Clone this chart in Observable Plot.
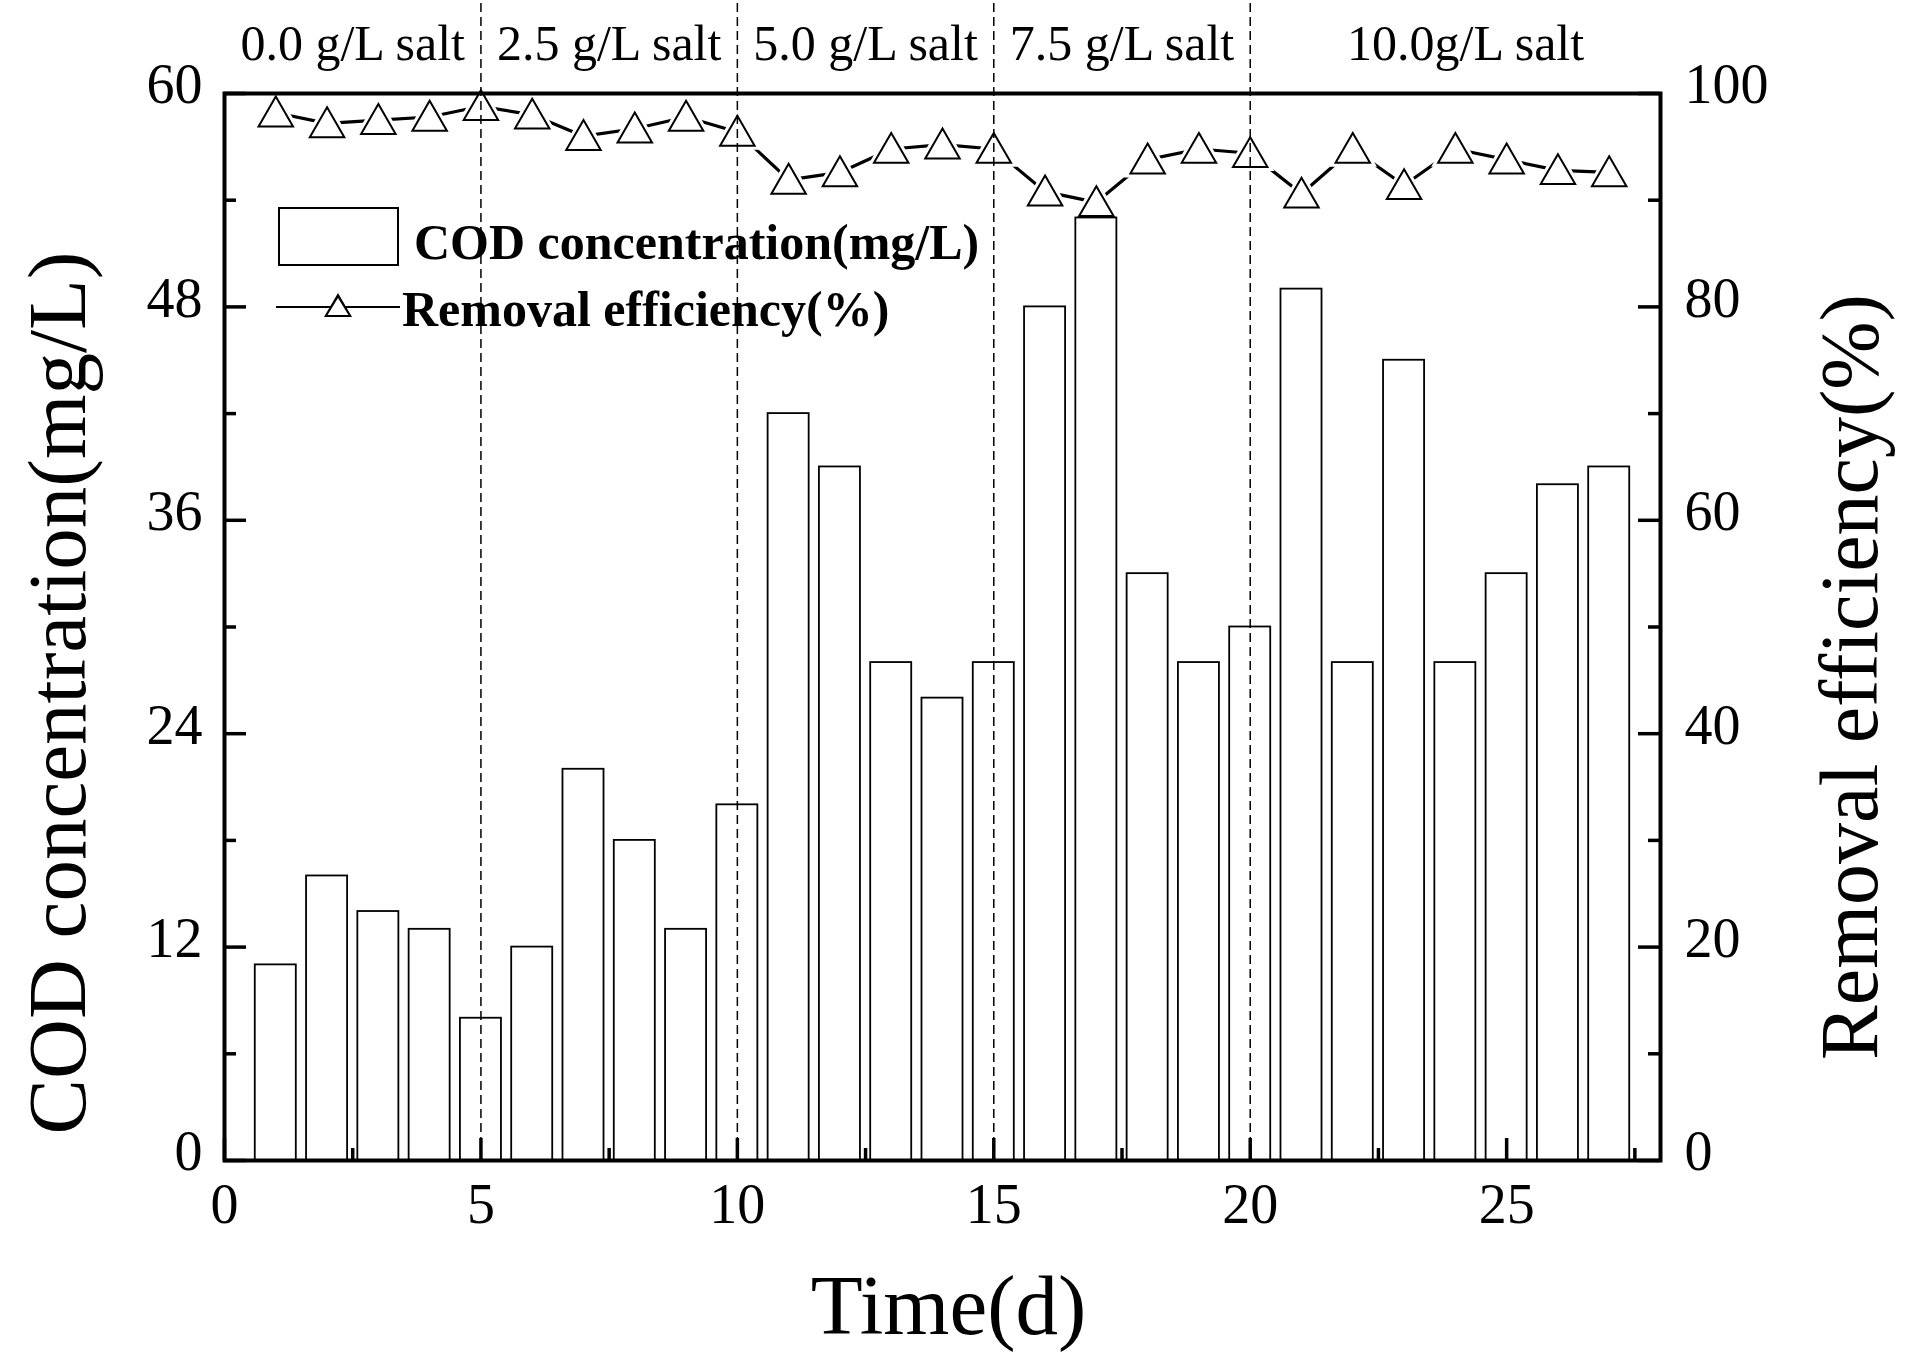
<!DOCTYPE html>
<html>
<head>
<meta charset="utf-8">
<script src="https://cdn.jsdelivr.net/npm/d3@7"></script>
<script src="https://cdn.jsdelivr.net/npm/@observablehq/plot@0.6"></script>
<style>
  html, body { margin: 0; padding: 0; background: white; overflow: hidden; }
  #wrap { position: relative; width: 1912px; height: 1359px; }
  .leg-text { position: absolute; font-family: "Liberation Serif", serif; font-weight: bold; font-size: 50px; line-height: 50px; color: black; white-space: nowrap; }
  .leg-rect { position: absolute; left: 278px; top: 207px; width: 121px; height: 59px; border: 2px solid black; box-sizing: border-box; background: white; }
  .leg-line { position: absolute; left: 276px; top: 306px; width: 124px; height: 0; border-top: 2.5px solid black; }
  .tri-o { position: absolute; left: 324px; top: 293px; width: 28px; height: 24px; background: black; clip-path: polygon(50% 0, 100% 100%, 0 100%); }
  .tri-i { position: absolute; left: 327.4px; top: 298px; width: 21.2px; height: 17.2px; background: white; clip-path: polygon(50% 0, 100% 100%, 0 100%); }
</style>
</head>
<body>
<div id="wrap"></div>
<script>
// ---- data ----
const days = [1,2,3,4,5,6,7,8,9,10,11,12,13,14,15,16,17,18,19,20,21,22,23,24,25,26,27];
const cod = [11,16,14,13,8,12,22,18,13,20,42,39,28,26,28,48,53,33,28,30,49,28,45,28,33,38,39];
const removal = [98.2,97.2,97.5,97.8,98.8,98.0,96.0,96.7,97.8,96.4,91.9,92.6,94.8,95.2,94.8,90.8,89.8,93.8,94.8,94.4,90.6,94.8,91.4,94.8,93.8,92.8,92.6];
const saltBoundaries = [5,10,15,20];
const saltLabels = ["0.0 g/L salt","2.5 g/L salt","5.0 g/L salt","7.5 g/L salt","10.0g/L salt"];
const saltX = [2.5,7.5,12.5,17.5,24.2];
const xTicks = [0,5,10,15,20,25];
const xMinor = [2.5,7.5,12.5,17.5,22.5,27.5];
const yTicks = [0,12,24,36,48,60];
const yMinor = [6,18,30,42,54];
const rightTickLabels = ["0","20","40","60","80","100"];
const xTitle = "Time(d)";
const yTitle = "COD concentration(mg/L)";
const y2Title = "Removal efficiency(%)";
const legendLabels = ["COD concentration(mg/L)","Removal efficiency(%)"];

const rows = days.map((d,i) => ({day: d, cod: cod[i], removal: removal[i]}));
const toLeft = v => v * 60 / 100; // right axis (0-100 %) onto left axis (0-60)

const W = 1912, H = 1359, ML = 224, MR = 252, MT = 93, MB = 199;
const FW = W - ML - MR, FH = H - MT - MB;
const font = "Liberation Serif";

const chart = Plot.plot({
  width: W, height: H,
  marginLeft: ML, marginRight: MR, marginTop: MT, marginBottom: MB,
  style: {background: "white", color: "black", fontFamily: font},
  x: {domain: [0, 28]},
  y: {domain: [0, 60]},
  marks: [
    Plot.line(rows, {x: "day", y: d => toLeft(d.removal), stroke: "black", strokeWidth: 3.2}),
    Plot.dot(rows, {x: "day", y: d => toLeft(d.removal), symbol: "triangle", r: 12.8, dy: 3.8, fill: "white", stroke: "white", strokeWidth: 8}),
    Plot.rectY(rows, {x1: d => d.day - 0.4, x2: d => d.day + 0.4, y1: 0, y2: "cod", fill: "white", stroke: "black", strokeWidth: 1.8}),
    Plot.dot(rows, {x: "day", y: d => toLeft(d.removal), symbol: "triangle", r: 12.8, dy: 3.8, fill: "white", stroke: "black", strokeWidth: 2}),
    Plot.frame({stroke: "black", strokeWidth: 4}),
    // inward ticks
    Plot.tickY(yTicks, {y: d => d, insetRight: FW - 22, stroke: "black", strokeWidth: 3.5}),
    Plot.tickY(yMinor, {y: d => d, insetRight: FW - 12, stroke: "black", strokeWidth: 3.5}),
    Plot.tickY(yTicks, {y: d => d, insetLeft: FW - 22, stroke: "black", strokeWidth: 3.5}),
    Plot.tickY(yMinor, {y: d => d, insetLeft: FW - 12, stroke: "black", strokeWidth: 3.5}),
    Plot.tickX(xTicks, {x: d => d, insetTop: FH - 22, stroke: "black", strokeWidth: 3.5}),
    Plot.tickX(xMinor, {x: d => d, insetTop: FH - 12, stroke: "black", strokeWidth: 3.5}),
    // axes labels
    Plot.axisX({ticks: xTicks, tickSize: 0, tickPadding: 23, fontSize: 56, label: null}),
    Plot.axisY({anchor: "left", ticks: yTicks, tickSize: 0, tickPadding: 22, dy: -8, fontSize: 56, label: null}),
    Plot.axisY({anchor: "right", ticks: yTicks, tickSize: 0, tickPadding: 24, dy: -8, fontSize: 56, label: null, tickFormat: d => rightTickLabels[yTicks.indexOf(d)]}),
    // salt phase boundaries
    Plot.ruleX(saltBoundaries, {x: d => d, y1: 0, y2: 65.3, stroke: "black", strokeWidth: 1.5, strokeDasharray: "9,5"}),
    Plot.text(saltLabels, {x: (d, i) => saltX[i], text: d => d, frameAnchor: "top", dy: -50, fontSize: 50, textAnchor: "middle", lineAnchor: "middle", fill: "black"}),
    // titles
    Plot.text([xTitle], {text: d => d, frameAnchor: "bottom", dx: 6, dy: 146, fontSize: 85, textAnchor: "middle", lineAnchor: "middle", fill: "black"}),
    Plot.text([yTitle], {text: d => d, frameAnchor: "left", rotate: -90, dx: -166, dy: 66, fontSize: 83, textAnchor: "middle", lineAnchor: "middle", fill: "black"}),
    Plot.text([y2Title], {text: d => d, frameAnchor: "right", rotate: -90, dx: 190, dy: 50, fontSize: 82, textAnchor: "middle", lineAnchor: "middle", fill: "black"})
  ]
});

const wrap = document.getElementById("wrap");
wrap.appendChild(chart);

// legend
const legend = document.createElement("div");
legend.innerHTML =
  '<div class="leg-rect"></div>' +
  '<div class="leg-text" style="left:414px;top:217px">' + legendLabels[0] + '</div>' +
  '<div class="leg-line"></div>' +
  '<div class="tri-o"></div><div class="tri-i"></div>' +
  '<div class="leg-text" style="left:402px;top:284px">' + legendLabels[1] + '</div>';
wrap.appendChild(legend);
</script>
</body>
</html>
